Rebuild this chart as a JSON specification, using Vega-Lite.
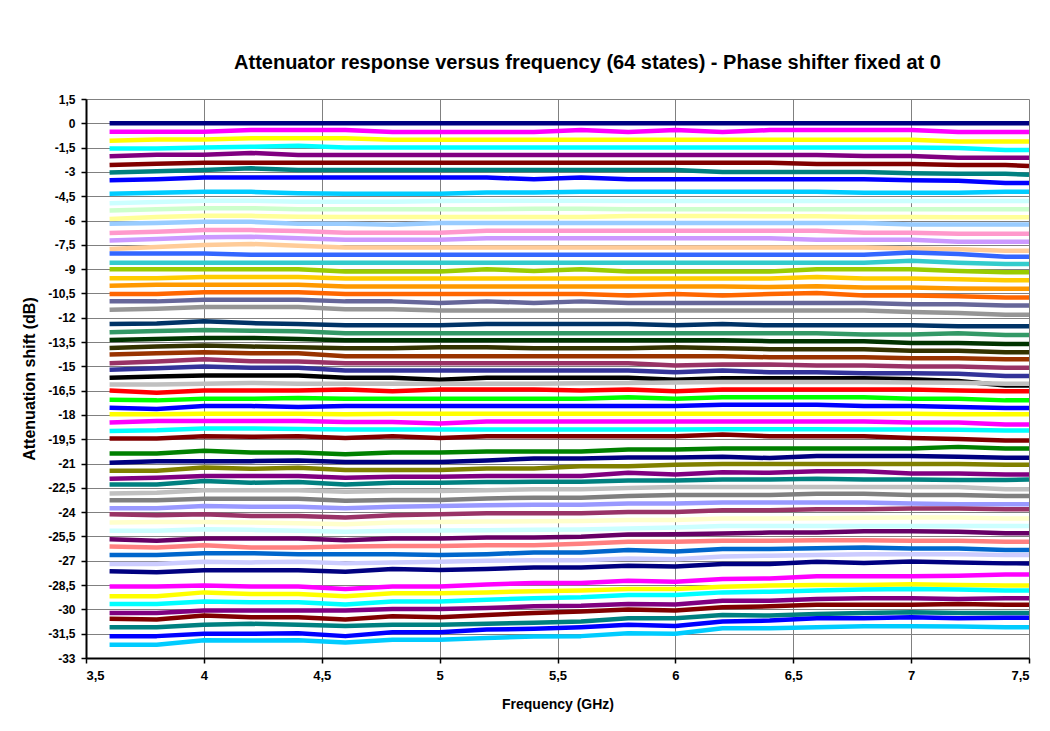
{
"$schema":"https://vega.github.io/schema/vega-lite/v6.json",
"width":943,"height":559,
"autosize":{"type":"none"},
"padding":{"left":86,"top":99,"right":21,"bottom":73},
"background":"white",
"title":{"text":"Attenuator response versus frequency (64 states) - Phase shifter fixed at 0","font":"Liberation Sans","fontSize":20,"fontWeight":"bold","color":"black","anchor":"middle","offset":20,"dx":30},
"data":{"values":[
{"s":1,"f":3.6,"v":0},{"s":1,"f":3.8,"v":0},{"s":1,"f":4,"v":0},{"s":1,"f":4.2,"v":0},{"s":1,"f":4.4,"v":0},{"s":1,"f":4.6,"v":0},{"s":1,"f":4.8,"v":0},{"s":1,"f":5,"v":0},{"s":1,"f":5.2,"v":0},{"s":1,"f":5.4,"v":0},{"s":1,"f":5.6,"v":0},{"s":1,"f":5.8,"v":0},{"s":1,"f":6,"v":0},{"s":1,"f":6.2,"v":0},{"s":1,"f":6.4,"v":0},{"s":1,"f":6.6,"v":0},{"s":1,"f":6.8,"v":0},{"s":1,"f":7,"v":0},{"s":1,"f":7.2,"v":0},{"s":1,"f":7.4,"v":0},{"s":1,"f":7.5,"v":0},
{"s":2,"f":3.6,"v":-0.52},{"s":2,"f":3.8,"v":-0.52},{"s":2,"f":4,"v":-0.52},{"s":2,"f":4.2,"v":-0.42},{"s":2,"f":4.4,"v":-0.42},{"s":2,"f":4.6,"v":-0.42},{"s":2,"f":4.8,"v":-0.54},{"s":2,"f":5,"v":-0.54},{"s":2,"f":5.2,"v":-0.54},{"s":2,"f":5.4,"v":-0.54},{"s":2,"f":5.6,"v":-0.42},{"s":2,"f":5.8,"v":-0.54},{"s":2,"f":6,"v":-0.42},{"s":2,"f":6.2,"v":-0.54},{"s":2,"f":6.4,"v":-0.42},{"s":2,"f":6.6,"v":-0.42},{"s":2,"f":6.8,"v":-0.42},{"s":2,"f":7,"v":-0.42},{"s":2,"f":7.2,"v":-0.54},{"s":2,"f":7.4,"v":-0.54},{"s":2,"f":7.5,"v":-0.54},
{"s":3,"f":3.6,"v":-1.08},{"s":3,"f":3.8,"v":-1},{"s":3,"f":4,"v":-1},{"s":3,"f":4.2,"v":-0.92},{"s":3,"f":4.4,"v":-0.92},{"s":3,"f":4.6,"v":-0.92},{"s":3,"f":4.8,"v":-1.01},{"s":3,"f":5,"v":-1.01},{"s":3,"f":5.2,"v":-1.01},{"s":3,"f":5.4,"v":-1.01},{"s":3,"f":5.6,"v":-1.01},{"s":3,"f":5.8,"v":-1.01},{"s":3,"f":6,"v":-1.01},{"s":3,"f":6.2,"v":-1.01},{"s":3,"f":6.4,"v":-1.01},{"s":3,"f":6.6,"v":-1.01},{"s":3,"f":6.8,"v":-1.01},{"s":3,"f":7,"v":-1.01},{"s":3,"f":7.2,"v":-1.12},{"s":3,"f":7.4,"v":-1.12},{"s":3,"f":7.5,"v":-1.12},
{"s":4,"f":3.6,"v":-1.55},{"s":4,"f":3.8,"v":-1.55},{"s":4,"f":4,"v":-1.5},{"s":4,"f":4.2,"v":-1.45},{"s":4,"f":4.4,"v":-1.38},{"s":4,"f":4.6,"v":-1.49},{"s":4,"f":4.8,"v":-1.49},{"s":4,"f":5,"v":-1.49},{"s":4,"f":5.2,"v":-1.49},{"s":4,"f":5.4,"v":-1.49},{"s":4,"f":5.6,"v":-1.49},{"s":4,"f":5.8,"v":-1.49},{"s":4,"f":6,"v":-1.49},{"s":4,"f":6.2,"v":-1.49},{"s":4,"f":6.4,"v":-1.49},{"s":4,"f":6.6,"v":-1.49},{"s":4,"f":6.8,"v":-1.49},{"s":4,"f":7,"v":-1.49},{"s":4,"f":7.2,"v":-1.53},{"s":4,"f":7.4,"v":-1.65},{"s":4,"f":7.5,"v":-1.65},
{"s":5,"f":3.6,"v":-2.04},{"s":5,"f":3.8,"v":-1.94},{"s":5,"f":4,"v":-1.94},{"s":5,"f":4.2,"v":-1.83},{"s":5,"f":4.4,"v":-1.96},{"s":5,"f":4.6,"v":-1.96},{"s":5,"f":4.8,"v":-1.96},{"s":5,"f":5,"v":-1.96},{"s":5,"f":5.2,"v":-1.96},{"s":5,"f":5.4,"v":-1.96},{"s":5,"f":5.6,"v":-1.96},{"s":5,"f":5.8,"v":-1.96},{"s":5,"f":6,"v":-1.96},{"s":5,"f":6.2,"v":-1.96},{"s":5,"f":6.4,"v":-1.96},{"s":5,"f":6.6,"v":-1.96},{"s":5,"f":6.8,"v":-2.02},{"s":5,"f":7,"v":-2.02},{"s":5,"f":7.2,"v":-2.12},{"s":5,"f":7.4,"v":-2.12},{"s":5,"f":7.5,"v":-2.12},
{"s":6,"f":3.6,"v":-2.57},{"s":6,"f":3.8,"v":-2.49},{"s":6,"f":4,"v":-2.43},{"s":6,"f":4.2,"v":-2.43},{"s":6,"f":4.4,"v":-2.43},{"s":6,"f":4.6,"v":-2.43},{"s":6,"f":4.8,"v":-2.43},{"s":6,"f":5,"v":-2.43},{"s":6,"f":5.2,"v":-2.43},{"s":6,"f":5.4,"v":-2.43},{"s":6,"f":5.6,"v":-2.43},{"s":6,"f":5.8,"v":-2.43},{"s":6,"f":6,"v":-2.43},{"s":6,"f":6.2,"v":-2.43},{"s":6,"f":6.4,"v":-2.43},{"s":6,"f":6.6,"v":-2.51},{"s":6,"f":6.8,"v":-2.51},{"s":6,"f":7,"v":-2.51},{"s":6,"f":7.2,"v":-2.57},{"s":6,"f":7.4,"v":-2.57},{"s":6,"f":7.5,"v":-2.63},
{"s":7,"f":3.6,"v":-3.04},{"s":7,"f":3.8,"v":-2.96},{"s":7,"f":4,"v":-2.88},{"s":7,"f":4.2,"v":-2.78},{"s":7,"f":4.4,"v":-2.88},{"s":7,"f":4.6,"v":-2.88},{"s":7,"f":4.8,"v":-2.88},{"s":7,"f":5,"v":-2.88},{"s":7,"f":5.2,"v":-2.88},{"s":7,"f":5.4,"v":-2.88},{"s":7,"f":5.6,"v":-2.88},{"s":7,"f":5.8,"v":-2.88},{"s":7,"f":6,"v":-2.88},{"s":7,"f":6.2,"v":-3},{"s":7,"f":6.4,"v":-3},{"s":7,"f":6.6,"v":-3},{"s":7,"f":6.8,"v":-3},{"s":7,"f":7,"v":-3.08},{"s":7,"f":7.2,"v":-3.12},{"s":7,"f":7.4,"v":-3.12},{"s":7,"f":7.5,"v":-3.17},
{"s":8,"f":3.6,"v":-3.51},{"s":8,"f":3.8,"v":-3.45},{"s":8,"f":4,"v":-3.35},{"s":8,"f":4.2,"v":-3.35},{"s":8,"f":4.4,"v":-3.35},{"s":8,"f":4.6,"v":-3.35},{"s":8,"f":4.8,"v":-3.35},{"s":8,"f":5,"v":-3.35},{"s":8,"f":5.2,"v":-3.35},{"s":8,"f":5.4,"v":-3.45},{"s":8,"f":5.6,"v":-3.35},{"s":8,"f":5.8,"v":-3.45},{"s":8,"f":6,"v":-3.45},{"s":8,"f":6.2,"v":-3.45},{"s":8,"f":6.4,"v":-3.45},{"s":8,"f":6.6,"v":-3.45},{"s":8,"f":6.8,"v":-3.45},{"s":8,"f":7,"v":-3.51},{"s":8,"f":7.2,"v":-3.55},{"s":8,"f":7.4,"v":-3.68},{"s":8,"f":7.5,"v":-3.68},
{"s":9,"f":3.6,"v":-4.35},{"s":9,"f":3.8,"v":-4.29},{"s":9,"f":4,"v":-4.23},{"s":9,"f":4.2,"v":-4.23},{"s":9,"f":4.4,"v":-4.31},{"s":9,"f":4.6,"v":-4.35},{"s":9,"f":4.8,"v":-4.35},{"s":9,"f":5,"v":-4.35},{"s":9,"f":5.2,"v":-4.27},{"s":9,"f":5.4,"v":-4.27},{"s":9,"f":5.6,"v":-4.23},{"s":9,"f":5.8,"v":-4.23},{"s":9,"f":6,"v":-4.23},{"s":9,"f":6.2,"v":-4.23},{"s":9,"f":6.4,"v":-4.23},{"s":9,"f":6.6,"v":-4.23},{"s":9,"f":6.8,"v":-4.29},{"s":9,"f":7,"v":-4.29},{"s":9,"f":7.2,"v":-4.29},{"s":9,"f":7.4,"v":-4.23},{"s":9,"f":7.5,"v":-4.23},
{"s":10,"f":3.6,"v":-4.93},{"s":10,"f":3.8,"v":-4.85},{"s":10,"f":4,"v":-4.78},{"s":10,"f":4.2,"v":-4.78},{"s":10,"f":4.4,"v":-4.84},{"s":10,"f":4.6,"v":-4.84},{"s":10,"f":4.8,"v":-4.84},{"s":10,"f":5,"v":-4.8},{"s":10,"f":5.2,"v":-4.78},{"s":10,"f":5.4,"v":-4.78},{"s":10,"f":5.6,"v":-4.78},{"s":10,"f":5.8,"v":-4.8},{"s":10,"f":6,"v":-4.8},{"s":10,"f":6.2,"v":-4.8},{"s":10,"f":6.4,"v":-4.8},{"s":10,"f":6.6,"v":-4.8},{"s":10,"f":6.8,"v":-4.8},{"s":10,"f":7,"v":-4.8},{"s":10,"f":7.2,"v":-4.8},{"s":10,"f":7.4,"v":-4.8},{"s":10,"f":7.5,"v":-4.8},
{"s":11,"f":3.6,"v":-5.38},{"s":11,"f":3.8,"v":-5.3},{"s":11,"f":4,"v":-5.24},{"s":11,"f":4.2,"v":-5.24},{"s":11,"f":4.4,"v":-5.3},{"s":11,"f":4.6,"v":-5.3},{"s":11,"f":4.8,"v":-5.3},{"s":11,"f":5,"v":-5.3},{"s":11,"f":5.2,"v":-5.3},{"s":11,"f":5.4,"v":-5.28},{"s":11,"f":5.6,"v":-5.28},{"s":11,"f":5.8,"v":-5.3},{"s":11,"f":6,"v":-5.3},{"s":11,"f":6.2,"v":-5.3},{"s":11,"f":6.4,"v":-5.3},{"s":11,"f":6.6,"v":-5.3},{"s":11,"f":6.8,"v":-5.3},{"s":11,"f":7,"v":-5.3},{"s":11,"f":7.2,"v":-5.3},{"s":11,"f":7.4,"v":-5.3},{"s":11,"f":7.5,"v":-5.3},
{"s":12,"f":3.6,"v":-5.91},{"s":12,"f":3.8,"v":-5.79},{"s":12,"f":4,"v":-5.71},{"s":12,"f":4.2,"v":-5.71},{"s":12,"f":4.4,"v":-5.77},{"s":12,"f":4.6,"v":-5.79},{"s":12,"f":4.8,"v":-5.79},{"s":12,"f":5,"v":-5.79},{"s":12,"f":5.2,"v":-5.79},{"s":12,"f":5.4,"v":-5.79},{"s":12,"f":5.6,"v":-5.79},{"s":12,"f":5.8,"v":-5.72},{"s":12,"f":6,"v":-5.72},{"s":12,"f":6.2,"v":-5.72},{"s":12,"f":6.4,"v":-5.74},{"s":12,"f":6.6,"v":-5.74},{"s":12,"f":6.8,"v":-5.78},{"s":12,"f":7,"v":-5.78},{"s":12,"f":7.2,"v":-5.8},{"s":12,"f":7.4,"v":-5.8},{"s":12,"f":7.5,"v":-5.8},
{"s":13,"f":3.6,"v":-6.2},{"s":13,"f":3.8,"v":-6.16},{"s":13,"f":4,"v":-6.08},{"s":13,"f":4.2,"v":-6.08},{"s":13,"f":4.4,"v":-6.2},{"s":13,"f":4.6,"v":-6.2},{"s":13,"f":4.8,"v":-6.26},{"s":13,"f":5,"v":-6.16},{"s":13,"f":5.2,"v":-6.16},{"s":13,"f":5.4,"v":-6.16},{"s":13,"f":5.6,"v":-6.16},{"s":13,"f":5.8,"v":-6.16},{"s":13,"f":6,"v":-6.16},{"s":13,"f":6.2,"v":-6.16},{"s":13,"f":6.4,"v":-6.16},{"s":13,"f":6.6,"v":-6.16},{"s":13,"f":6.8,"v":-6.16},{"s":13,"f":7,"v":-6.24},{"s":13,"f":7.2,"v":-6.24},{"s":13,"f":7.4,"v":-6.24},{"s":13,"f":7.5,"v":-6.24},
{"s":14,"f":3.6,"v":-6.77},{"s":14,"f":3.8,"v":-6.69},{"s":14,"f":4,"v":-6.59},{"s":14,"f":4.2,"v":-6.59},{"s":14,"f":4.4,"v":-6.65},{"s":14,"f":4.6,"v":-6.75},{"s":14,"f":4.8,"v":-6.75},{"s":14,"f":5,"v":-6.75},{"s":14,"f":5.2,"v":-6.63},{"s":14,"f":5.4,"v":-6.63},{"s":14,"f":5.6,"v":-6.63},{"s":14,"f":5.8,"v":-6.63},{"s":14,"f":6,"v":-6.63},{"s":14,"f":6.2,"v":-6.63},{"s":14,"f":6.4,"v":-6.63},{"s":14,"f":6.6,"v":-6.63},{"s":14,"f":6.8,"v":-6.75},{"s":14,"f":7,"v":-6.75},{"s":14,"f":7.2,"v":-6.81},{"s":14,"f":7.4,"v":-6.81},{"s":14,"f":7.5,"v":-6.81},
{"s":15,"f":3.6,"v":-7.24},{"s":15,"f":3.8,"v":-7.14},{"s":15,"f":4,"v":-7.04},{"s":15,"f":4.2,"v":-7},{"s":15,"f":4.4,"v":-7.1},{"s":15,"f":4.6,"v":-7.18},{"s":15,"f":4.8,"v":-7.18},{"s":15,"f":5,"v":-7.18},{"s":15,"f":5.2,"v":-7.1},{"s":15,"f":5.4,"v":-7.1},{"s":15,"f":5.6,"v":-7.1},{"s":15,"f":5.8,"v":-7.1},{"s":15,"f":6,"v":-7.1},{"s":15,"f":6.2,"v":-7.1},{"s":15,"f":6.4,"v":-7.1},{"s":15,"f":6.6,"v":-7.18},{"s":15,"f":6.8,"v":-7.18},{"s":15,"f":7,"v":-7.18},{"s":15,"f":7.2,"v":-7.31},{"s":15,"f":7.4,"v":-7.31},{"s":15,"f":7.5,"v":-7.31},
{"s":16,"f":3.6,"v":-7.76},{"s":16,"f":3.8,"v":-7.63},{"s":16,"f":4,"v":-7.51},{"s":16,"f":4.2,"v":-7.45},{"s":16,"f":4.4,"v":-7.55},{"s":16,"f":4.6,"v":-7.67},{"s":16,"f":4.8,"v":-7.67},{"s":16,"f":5,"v":-7.67},{"s":16,"f":5.2,"v":-7.67},{"s":16,"f":5.4,"v":-7.67},{"s":16,"f":5.6,"v":-7.67},{"s":16,"f":5.8,"v":-7.67},{"s":16,"f":6,"v":-7.67},{"s":16,"f":6.2,"v":-7.67},{"s":16,"f":6.4,"v":-7.67},{"s":16,"f":6.6,"v":-7.67},{"s":16,"f":6.8,"v":-7.67},{"s":16,"f":7,"v":-7.72},{"s":16,"f":7.2,"v":-7.78},{"s":16,"f":7.4,"v":-7.86},{"s":16,"f":7.5,"v":-7.86},
{"s":17,"f":3.6,"v":-8.04},{"s":17,"f":3.8,"v":-8.04},{"s":17,"f":4,"v":-8.04},{"s":17,"f":4.2,"v":-8.12},{"s":17,"f":4.4,"v":-8.12},{"s":17,"f":4.6,"v":-8.12},{"s":17,"f":4.8,"v":-8.12},{"s":17,"f":5,"v":-8.12},{"s":17,"f":5.2,"v":-8.12},{"s":17,"f":5.4,"v":-8.12},{"s":17,"f":5.6,"v":-8.12},{"s":17,"f":5.8,"v":-8.12},{"s":17,"f":6,"v":-8.12},{"s":17,"f":6.2,"v":-8.12},{"s":17,"f":6.4,"v":-8.12},{"s":17,"f":6.6,"v":-8.12},{"s":17,"f":6.8,"v":-8.12},{"s":17,"f":7,"v":-7.98},{"s":17,"f":7.2,"v":-8.06},{"s":17,"f":7.4,"v":-8.23},{"s":17,"f":7.5,"v":-8.23},
{"s":18,"f":3.6,"v":-8.6},{"s":18,"f":3.8,"v":-8.6},{"s":18,"f":4,"v":-8.6},{"s":18,"f":4.2,"v":-8.6},{"s":18,"f":4.4,"v":-8.6},{"s":18,"f":4.6,"v":-8.6},{"s":18,"f":4.8,"v":-8.6},{"s":18,"f":5,"v":-8.6},{"s":18,"f":5.2,"v":-8.6},{"s":18,"f":5.4,"v":-8.6},{"s":18,"f":5.6,"v":-8.6},{"s":18,"f":5.8,"v":-8.6},{"s":18,"f":6,"v":-8.6},{"s":18,"f":6.2,"v":-8.6},{"s":18,"f":6.4,"v":-8.6},{"s":18,"f":6.6,"v":-8.6},{"s":18,"f":6.8,"v":-8.6},{"s":18,"f":7,"v":-8.49},{"s":18,"f":7.2,"v":-8.6},{"s":18,"f":7.4,"v":-8.68},{"s":18,"f":7.5,"v":-8.68},
{"s":19,"f":3.6,"v":-9.01},{"s":19,"f":3.8,"v":-9.01},{"s":19,"f":4,"v":-9.01},{"s":19,"f":4.2,"v":-9.01},{"s":19,"f":4.4,"v":-9.01},{"s":19,"f":4.6,"v":-9.15},{"s":19,"f":4.8,"v":-9.15},{"s":19,"f":5,"v":-9.15},{"s":19,"f":5.2,"v":-9.01},{"s":19,"f":5.4,"v":-9.11},{"s":19,"f":5.6,"v":-9.01},{"s":19,"f":5.8,"v":-9.15},{"s":19,"f":6,"v":-9.15},{"s":19,"f":6.2,"v":-9.15},{"s":19,"f":6.4,"v":-9.15},{"s":19,"f":6.6,"v":-9.01},{"s":19,"f":6.8,"v":-9.01},{"s":19,"f":7,"v":-9.01},{"s":19,"f":7.2,"v":-9.11},{"s":19,"f":7.4,"v":-9.19},{"s":19,"f":7.5,"v":-9.19},
{"s":20,"f":3.6,"v":-9.56},{"s":20,"f":3.8,"v":-9.56},{"s":20,"f":4,"v":-9.48},{"s":20,"f":4.2,"v":-9.48},{"s":20,"f":4.4,"v":-9.48},{"s":20,"f":4.6,"v":-9.58},{"s":20,"f":4.8,"v":-9.58},{"s":20,"f":5,"v":-9.58},{"s":20,"f":5.2,"v":-9.58},{"s":20,"f":5.4,"v":-9.58},{"s":20,"f":5.6,"v":-9.58},{"s":20,"f":5.8,"v":-9.58},{"s":20,"f":6,"v":-9.58},{"s":20,"f":6.2,"v":-9.58},{"s":20,"f":6.4,"v":-9.58},{"s":20,"f":6.6,"v":-9.48},{"s":20,"f":6.8,"v":-9.58},{"s":20,"f":7,"v":-9.58},{"s":20,"f":7.2,"v":-9.62},{"s":20,"f":7.4,"v":-9.68},{"s":20,"f":7.5,"v":-9.68},
{"s":21,"f":3.6,"v":-10.03},{"s":21,"f":3.8,"v":-9.97},{"s":21,"f":4,"v":-9.97},{"s":21,"f":4.2,"v":-9.97},{"s":21,"f":4.4,"v":-9.97},{"s":21,"f":4.6,"v":-10.07},{"s":21,"f":4.8,"v":-10.07},{"s":21,"f":5,"v":-10.07},{"s":21,"f":5.2,"v":-10.07},{"s":21,"f":5.4,"v":-10.07},{"s":21,"f":5.6,"v":-10.07},{"s":21,"f":5.8,"v":-10.07},{"s":21,"f":6,"v":-10.07},{"s":21,"f":6.2,"v":-10.07},{"s":21,"f":6.4,"v":-10.11},{"s":21,"f":6.6,"v":-10.05},{"s":21,"f":6.8,"v":-10.13},{"s":21,"f":7,"v":-10.13},{"s":21,"f":7.2,"v":-10.19},{"s":21,"f":7.4,"v":-10.21},{"s":21,"f":7.5,"v":-10.21},
{"s":22,"f":3.6,"v":-10.54},{"s":22,"f":3.8,"v":-10.54},{"s":22,"f":4,"v":-10.42},{"s":22,"f":4.2,"v":-10.42},{"s":22,"f":4.4,"v":-10.42},{"s":22,"f":4.6,"v":-10.54},{"s":22,"f":4.8,"v":-10.54},{"s":22,"f":5,"v":-10.54},{"s":22,"f":5.2,"v":-10.54},{"s":22,"f":5.4,"v":-10.54},{"s":22,"f":5.6,"v":-10.54},{"s":22,"f":5.8,"v":-10.62},{"s":22,"f":6,"v":-10.54},{"s":22,"f":6.2,"v":-10.62},{"s":22,"f":6.4,"v":-10.54},{"s":22,"f":6.6,"v":-10.48},{"s":22,"f":6.8,"v":-10.62},{"s":22,"f":7,"v":-10.62},{"s":22,"f":7.2,"v":-10.67},{"s":22,"f":7.4,"v":-10.75},{"s":22,"f":7.5,"v":-10.75},
{"s":23,"f":3.6,"v":-10.99},{"s":23,"f":3.8,"v":-10.99},{"s":23,"f":4,"v":-10.89},{"s":23,"f":4.2,"v":-10.89},{"s":23,"f":4.4,"v":-10.89},{"s":23,"f":4.6,"v":-10.99},{"s":23,"f":4.8,"v":-10.99},{"s":23,"f":5,"v":-11.09},{"s":23,"f":5.2,"v":-10.99},{"s":23,"f":5.4,"v":-11.09},{"s":23,"f":5.6,"v":-10.99},{"s":23,"f":5.8,"v":-11.09},{"s":23,"f":6,"v":-11.09},{"s":23,"f":6.2,"v":-11.09},{"s":23,"f":6.4,"v":-11.09},{"s":23,"f":6.6,"v":-11.09},{"s":23,"f":6.8,"v":-11.09},{"s":23,"f":7,"v":-11.16},{"s":23,"f":7.2,"v":-11.16},{"s":23,"f":7.4,"v":-11.24},{"s":23,"f":7.5,"v":-11.24},
{"s":24,"f":3.6,"v":-11.5},{"s":24,"f":3.8,"v":-11.45},{"s":24,"f":4,"v":-11.34},{"s":24,"f":4.2,"v":-11.34},{"s":24,"f":4.4,"v":-11.34},{"s":24,"f":4.6,"v":-11.47},{"s":24,"f":4.8,"v":-11.47},{"s":24,"f":5,"v":-11.55},{"s":24,"f":5.2,"v":-11.55},{"s":24,"f":5.4,"v":-11.55},{"s":24,"f":5.6,"v":-11.55},{"s":24,"f":5.8,"v":-11.55},{"s":24,"f":6,"v":-11.55},{"s":24,"f":6.2,"v":-11.55},{"s":24,"f":6.4,"v":-11.55},{"s":24,"f":6.6,"v":-11.55},{"s":24,"f":6.8,"v":-11.55},{"s":24,"f":7,"v":-11.65},{"s":24,"f":7.2,"v":-11.71},{"s":24,"f":7.4,"v":-11.81},{"s":24,"f":7.5,"v":-11.81},
{"s":25,"f":3.6,"v":-12.39},{"s":25,"f":3.8,"v":-12.35},{"s":25,"f":4,"v":-12.22},{"s":25,"f":4.2,"v":-12.33},{"s":25,"f":4.4,"v":-12.39},{"s":25,"f":4.6,"v":-12.47},{"s":25,"f":4.8,"v":-12.47},{"s":25,"f":5,"v":-12.47},{"s":25,"f":5.2,"v":-12.39},{"s":25,"f":5.4,"v":-12.39},{"s":25,"f":5.6,"v":-12.39},{"s":25,"f":5.8,"v":-12.39},{"s":25,"f":6,"v":-12.47},{"s":25,"f":6.2,"v":-12.39},{"s":25,"f":6.4,"v":-12.47},{"s":25,"f":6.6,"v":-12.47},{"s":25,"f":6.8,"v":-12.47},{"s":25,"f":7,"v":-12.47},{"s":25,"f":7.2,"v":-12.53},{"s":25,"f":7.4,"v":-12.53},{"s":25,"f":7.5,"v":-12.53},
{"s":26,"f":3.6,"v":-12.9},{"s":26,"f":3.8,"v":-12.82},{"s":26,"f":4,"v":-12.76},{"s":26,"f":4.2,"v":-12.8},{"s":26,"f":4.4,"v":-12.84},{"s":26,"f":4.6,"v":-12.96},{"s":26,"f":4.8,"v":-12.96},{"s":26,"f":5,"v":-12.96},{"s":26,"f":5.2,"v":-12.96},{"s":26,"f":5.4,"v":-12.96},{"s":26,"f":5.6,"v":-12.96},{"s":26,"f":5.8,"v":-12.96},{"s":26,"f":6,"v":-12.96},{"s":26,"f":6.2,"v":-12.96},{"s":26,"f":6.4,"v":-12.96},{"s":26,"f":6.6,"v":-12.96},{"s":26,"f":6.8,"v":-13.04},{"s":26,"f":7,"v":-13.04},{"s":26,"f":7.2,"v":-12.96},{"s":26,"f":7.4,"v":-13.06},{"s":26,"f":7.5,"v":-13.06},
{"s":27,"f":3.6,"v":-13.37},{"s":27,"f":3.8,"v":-13.31},{"s":27,"f":4,"v":-13.25},{"s":27,"f":4.2,"v":-13.25},{"s":27,"f":4.4,"v":-13.31},{"s":27,"f":4.6,"v":-13.39},{"s":27,"f":4.8,"v":-13.39},{"s":27,"f":5,"v":-13.39},{"s":27,"f":5.2,"v":-13.39},{"s":27,"f":5.4,"v":-13.39},{"s":27,"f":5.6,"v":-13.39},{"s":27,"f":5.8,"v":-13.39},{"s":27,"f":6,"v":-13.39},{"s":27,"f":6.2,"v":-13.39},{"s":27,"f":6.4,"v":-13.45},{"s":27,"f":6.6,"v":-13.45},{"s":27,"f":6.8,"v":-13.45},{"s":27,"f":7,"v":-13.56},{"s":27,"f":7.2,"v":-13.56},{"s":27,"f":7.4,"v":-13.62},{"s":27,"f":7.5,"v":-13.62},
{"s":28,"f":3.6,"v":-13.86},{"s":28,"f":3.8,"v":-13.78},{"s":28,"f":4,"v":-13.72},{"s":28,"f":4.2,"v":-13.78},{"s":28,"f":4.4,"v":-13.82},{"s":28,"f":4.6,"v":-13.88},{"s":28,"f":4.8,"v":-13.88},{"s":28,"f":5,"v":-13.82},{"s":28,"f":5.2,"v":-13.82},{"s":28,"f":5.4,"v":-13.88},{"s":28,"f":5.6,"v":-13.88},{"s":28,"f":5.8,"v":-13.88},{"s":28,"f":6,"v":-13.82},{"s":28,"f":6.2,"v":-13.88},{"s":28,"f":6.4,"v":-13.94},{"s":28,"f":6.6,"v":-13.94},{"s":28,"f":6.8,"v":-13.94},{"s":28,"f":7,"v":-14.03},{"s":28,"f":7.2,"v":-14.03},{"s":28,"f":7.4,"v":-14.13},{"s":28,"f":7.5,"v":-14.13},
{"s":29,"f":3.6,"v":-14.27},{"s":29,"f":3.8,"v":-14.19},{"s":29,"f":4,"v":-14.13},{"s":29,"f":4.2,"v":-14.19},{"s":29,"f":4.4,"v":-14.19},{"s":29,"f":4.6,"v":-14.37},{"s":29,"f":4.8,"v":-14.37},{"s":29,"f":5,"v":-14.37},{"s":29,"f":5.2,"v":-14.37},{"s":29,"f":5.4,"v":-14.37},{"s":29,"f":5.6,"v":-14.37},{"s":29,"f":5.8,"v":-14.37},{"s":29,"f":6,"v":-14.37},{"s":29,"f":6.2,"v":-14.37},{"s":29,"f":6.4,"v":-14.44},{"s":29,"f":6.6,"v":-14.44},{"s":29,"f":6.8,"v":-14.44},{"s":29,"f":7,"v":-14.5},{"s":29,"f":7.2,"v":-14.5},{"s":29,"f":7.4,"v":-14.56},{"s":29,"f":7.5,"v":-14.56},
{"s":30,"f":3.6,"v":-14.81},{"s":30,"f":3.8,"v":-14.7},{"s":30,"f":4,"v":-14.56},{"s":30,"f":4.2,"v":-14.68},{"s":30,"f":4.4,"v":-14.7},{"s":30,"f":4.6,"v":-14.81},{"s":30,"f":4.8,"v":-14.81},{"s":30,"f":5,"v":-14.81},{"s":30,"f":5.2,"v":-14.81},{"s":30,"f":5.4,"v":-14.81},{"s":30,"f":5.6,"v":-14.81},{"s":30,"f":5.8,"v":-14.81},{"s":30,"f":6,"v":-14.95},{"s":30,"f":6.2,"v":-14.89},{"s":30,"f":6.4,"v":-14.89},{"s":30,"f":6.6,"v":-14.95},{"s":30,"f":6.8,"v":-14.95},{"s":30,"f":7,"v":-15.01},{"s":30,"f":7.2,"v":-15.01},{"s":30,"f":7.4,"v":-15.09},{"s":30,"f":7.5,"v":-15.09},
{"s":31,"f":3.6,"v":-15.21},{"s":31,"f":3.8,"v":-15.11},{"s":31,"f":4,"v":-15.01},{"s":31,"f":4.2,"v":-15.09},{"s":31,"f":4.4,"v":-15.09},{"s":31,"f":4.6,"v":-15.25},{"s":31,"f":4.8,"v":-15.25},{"s":31,"f":5,"v":-15.25},{"s":31,"f":5.2,"v":-15.25},{"s":31,"f":5.4,"v":-15.25},{"s":31,"f":5.6,"v":-15.25},{"s":31,"f":5.8,"v":-15.25},{"s":31,"f":6,"v":-15.36},{"s":31,"f":6.2,"v":-15.25},{"s":31,"f":6.4,"v":-15.36},{"s":31,"f":6.6,"v":-15.36},{"s":31,"f":6.8,"v":-15.42},{"s":31,"f":7,"v":-15.42},{"s":31,"f":7.2,"v":-15.46},{"s":31,"f":7.4,"v":-15.6},{"s":31,"f":7.5,"v":-15.6},
{"s":32,"f":3.6,"v":-15.71},{"s":32,"f":3.8,"v":-15.63},{"s":32,"f":4,"v":-15.56},{"s":32,"f":4.2,"v":-15.56},{"s":32,"f":4.4,"v":-15.56},{"s":32,"f":4.6,"v":-15.71},{"s":32,"f":4.8,"v":-15.71},{"s":32,"f":5,"v":-15.83},{"s":32,"f":5.2,"v":-15.71},{"s":32,"f":5.4,"v":-15.71},{"s":32,"f":5.6,"v":-15.71},{"s":32,"f":5.8,"v":-15.71},{"s":32,"f":6,"v":-15.83},{"s":32,"f":6.2,"v":-15.73},{"s":32,"f":6.4,"v":-15.73},{"s":32,"f":6.6,"v":-15.73},{"s":32,"f":6.8,"v":-15.73},{"s":32,"f":7,"v":-15.8},{"s":32,"f":7.2,"v":-15.91},{"s":32,"f":7.4,"v":-16.18},{"s":32,"f":7.5,"v":-16.18},
{"s":33,"f":3.6,"v":-16.12},{"s":33,"f":3.8,"v":-16.12},{"s":33,"f":4,"v":-16.08},{"s":33,"f":4.2,"v":-16.03},{"s":33,"f":4.4,"v":-16.08},{"s":33,"f":4.6,"v":-16.08},{"s":33,"f":4.8,"v":-16.08},{"s":33,"f":5,"v":-16.08},{"s":33,"f":5.2,"v":-16.08},{"s":33,"f":5.4,"v":-16.08},{"s":33,"f":5.6,"v":-16.05},{"s":33,"f":5.8,"v":-16.03},{"s":33,"f":6,"v":-16},{"s":33,"f":6.2,"v":-15.97},{"s":33,"f":6.4,"v":-15.97},{"s":33,"f":6.6,"v":-15.97},{"s":33,"f":6.8,"v":-15.97},{"s":33,"f":7,"v":-15.99},{"s":33,"f":7.2,"v":-16.01},{"s":33,"f":7.4,"v":-16.08},{"s":33,"f":7.5,"v":-16.08},
{"s":34,"f":3.6,"v":-16.49},{"s":34,"f":3.8,"v":-16.63},{"s":34,"f":4,"v":-16.49},{"s":34,"f":4.2,"v":-16.49},{"s":34,"f":4.4,"v":-16.49},{"s":34,"f":4.6,"v":-16.43},{"s":34,"f":4.8,"v":-16.53},{"s":34,"f":5,"v":-16.43},{"s":34,"f":5.2,"v":-16.43},{"s":34,"f":5.4,"v":-16.43},{"s":34,"f":5.6,"v":-16.49},{"s":34,"f":5.8,"v":-16.43},{"s":34,"f":6,"v":-16.53},{"s":34,"f":6.2,"v":-16.43},{"s":34,"f":6.4,"v":-16.43},{"s":34,"f":6.6,"v":-16.43},{"s":34,"f":6.8,"v":-16.43},{"s":34,"f":7,"v":-16.43},{"s":34,"f":7.2,"v":-16.49},{"s":34,"f":7.4,"v":-16.53},{"s":34,"f":7.5,"v":-16.53},
{"s":35,"f":3.6,"v":-17.06},{"s":35,"f":3.8,"v":-17.1},{"s":35,"f":4,"v":-17},{"s":35,"f":4.2,"v":-17},{"s":35,"f":4.4,"v":-16.96},{"s":35,"f":4.6,"v":-17},{"s":35,"f":4.8,"v":-17},{"s":35,"f":5,"v":-17},{"s":35,"f":5.2,"v":-17},{"s":35,"f":5.4,"v":-17},{"s":35,"f":5.6,"v":-17},{"s":35,"f":5.8,"v":-16.9},{"s":35,"f":6,"v":-17},{"s":35,"f":6.2,"v":-16.9},{"s":35,"f":6.4,"v":-16.9},{"s":35,"f":6.6,"v":-16.9},{"s":35,"f":6.8,"v":-16.9},{"s":35,"f":7,"v":-17},{"s":35,"f":7.2,"v":-17},{"s":35,"f":7.4,"v":-17.1},{"s":35,"f":7.5,"v":-17.1},
{"s":36,"f":3.6,"v":-17.55},{"s":36,"f":3.8,"v":-17.63},{"s":36,"f":4,"v":-17.45},{"s":36,"f":4.2,"v":-17.45},{"s":36,"f":4.4,"v":-17.51},{"s":36,"f":4.6,"v":-17.45},{"s":36,"f":4.8,"v":-17.45},{"s":36,"f":5,"v":-17.45},{"s":36,"f":5.2,"v":-17.45},{"s":36,"f":5.4,"v":-17.45},{"s":36,"f":5.6,"v":-17.45},{"s":36,"f":5.8,"v":-17.45},{"s":36,"f":6,"v":-17.45},{"s":36,"f":6.2,"v":-17.37},{"s":36,"f":6.4,"v":-17.37},{"s":36,"f":6.6,"v":-17.37},{"s":36,"f":6.8,"v":-17.45},{"s":36,"f":7,"v":-17.45},{"s":36,"f":7.2,"v":-17.51},{"s":36,"f":7.4,"v":-17.57},{"s":36,"f":7.5,"v":-17.57},
{"s":37,"f":3.6,"v":-17.96},{"s":37,"f":3.8,"v":-17.96},{"s":37,"f":4,"v":-17.92},{"s":37,"f":4.2,"v":-17.92},{"s":37,"f":4.4,"v":-17.92},{"s":37,"f":4.6,"v":-17.96},{"s":37,"f":4.8,"v":-17.92},{"s":37,"f":5,"v":-17.92},{"s":37,"f":5.2,"v":-17.92},{"s":37,"f":5.4,"v":-17.92},{"s":37,"f":5.6,"v":-17.92},{"s":37,"f":5.8,"v":-17.92},{"s":37,"f":6,"v":-17.92},{"s":37,"f":6.2,"v":-17.92},{"s":37,"f":6.4,"v":-17.92},{"s":37,"f":6.6,"v":-17.92},{"s":37,"f":6.8,"v":-17.92},{"s":37,"f":7,"v":-17.92},{"s":37,"f":7.2,"v":-17.96},{"s":37,"f":7.4,"v":-17.96},{"s":37,"f":7.5,"v":-17.96},
{"s":38,"f":3.6,"v":-18.47},{"s":38,"f":3.8,"v":-18.37},{"s":38,"f":4,"v":-18.37},{"s":38,"f":4.2,"v":-18.37},{"s":38,"f":4.4,"v":-18.37},{"s":38,"f":4.6,"v":-18.43},{"s":38,"f":4.8,"v":-18.43},{"s":38,"f":5,"v":-18.53},{"s":38,"f":5.2,"v":-18.41},{"s":38,"f":5.4,"v":-18.41},{"s":38,"f":5.6,"v":-18.41},{"s":38,"f":5.8,"v":-18.41},{"s":38,"f":6,"v":-18.41},{"s":38,"f":6.2,"v":-18.41},{"s":38,"f":6.4,"v":-18.41},{"s":38,"f":6.6,"v":-18.41},{"s":38,"f":6.8,"v":-18.41},{"s":38,"f":7,"v":-18.47},{"s":38,"f":7.2,"v":-18.47},{"s":38,"f":7.4,"v":-18.59},{"s":38,"f":7.5,"v":-18.59},
{"s":39,"f":3.6,"v":-18.99},{"s":39,"f":3.8,"v":-18.95},{"s":39,"f":4,"v":-18.83},{"s":39,"f":4.2,"v":-18.83},{"s":39,"f":4.4,"v":-18.87},{"s":39,"f":4.6,"v":-18.9},{"s":39,"f":4.8,"v":-18.9},{"s":39,"f":5,"v":-18.9},{"s":39,"f":5.2,"v":-18.9},{"s":39,"f":5.4,"v":-18.9},{"s":39,"f":5.6,"v":-18.9},{"s":39,"f":5.8,"v":-18.9},{"s":39,"f":6,"v":-18.9},{"s":39,"f":6.2,"v":-18.88},{"s":39,"f":6.4,"v":-18.88},{"s":39,"f":6.6,"v":-18.88},{"s":39,"f":6.8,"v":-18.9},{"s":39,"f":7,"v":-18.9},{"s":39,"f":7.2,"v":-18.92},{"s":39,"f":7.4,"v":-18.96},{"s":39,"f":7.5,"v":-18.96},
{"s":40,"f":3.6,"v":-19.46},{"s":40,"f":3.8,"v":-19.46},{"s":40,"f":4,"v":-19.31},{"s":40,"f":4.2,"v":-19.35},{"s":40,"f":4.4,"v":-19.31},{"s":40,"f":4.6,"v":-19.42},{"s":40,"f":4.8,"v":-19.31},{"s":40,"f":5,"v":-19.42},{"s":40,"f":5.2,"v":-19.31},{"s":40,"f":5.4,"v":-19.31},{"s":40,"f":5.6,"v":-19.31},{"s":40,"f":5.8,"v":-19.31},{"s":40,"f":6,"v":-19.31},{"s":40,"f":6.2,"v":-19.21},{"s":40,"f":6.4,"v":-19.31},{"s":40,"f":6.6,"v":-19.31},{"s":40,"f":6.8,"v":-19.31},{"s":40,"f":7,"v":-19.42},{"s":40,"f":7.2,"v":-19.48},{"s":40,"f":7.4,"v":-19.58},{"s":40,"f":7.5,"v":-19.58},
{"s":41,"f":3.6,"v":-20.38},{"s":41,"f":3.8,"v":-20.38},{"s":41,"f":4,"v":-20.21},{"s":41,"f":4.2,"v":-20.32},{"s":41,"f":4.4,"v":-20.32},{"s":41,"f":4.6,"v":-20.42},{"s":41,"f":4.8,"v":-20.32},{"s":41,"f":5,"v":-20.32},{"s":41,"f":5.2,"v":-20.26},{"s":41,"f":5.4,"v":-20.26},{"s":41,"f":5.6,"v":-20.26},{"s":41,"f":5.8,"v":-20.13},{"s":41,"f":6,"v":-20.13},{"s":41,"f":6.2,"v":-20.07},{"s":41,"f":6.4,"v":-20.07},{"s":41,"f":6.6,"v":-20.07},{"s":41,"f":6.8,"v":-20.07},{"s":41,"f":7,"v":-20.07},{"s":41,"f":7.2,"v":-19.97},{"s":41,"f":7.4,"v":-20.07},{"s":41,"f":7.5,"v":-20.07},
{"s":42,"f":3.6,"v":-20.95},{"s":42,"f":3.8,"v":-20.85},{"s":42,"f":4,"v":-20.85},{"s":42,"f":4.2,"v":-20.85},{"s":42,"f":4.4,"v":-20.81},{"s":42,"f":4.6,"v":-20.91},{"s":42,"f":4.8,"v":-20.91},{"s":42,"f":5,"v":-20.91},{"s":42,"f":5.2,"v":-20.81},{"s":42,"f":5.4,"v":-20.69},{"s":42,"f":5.6,"v":-20.69},{"s":42,"f":5.8,"v":-20.62},{"s":42,"f":6,"v":-20.62},{"s":42,"f":6.2,"v":-20.58},{"s":42,"f":6.4,"v":-20.66},{"s":42,"f":6.6,"v":-20.54},{"s":42,"f":6.8,"v":-20.54},{"s":42,"f":7,"v":-20.54},{"s":42,"f":7.2,"v":-20.58},{"s":42,"f":7.4,"v":-20.64},{"s":42,"f":7.5,"v":-20.64},
{"s":43,"f":3.6,"v":-21.44},{"s":43,"f":3.8,"v":-21.44},{"s":43,"f":4,"v":-21.24},{"s":43,"f":4.2,"v":-21.32},{"s":43,"f":4.4,"v":-21.26},{"s":43,"f":4.6,"v":-21.4},{"s":43,"f":4.8,"v":-21.4},{"s":43,"f":5,"v":-21.4},{"s":43,"f":5.2,"v":-21.3},{"s":43,"f":5.4,"v":-21.3},{"s":43,"f":5.6,"v":-21.16},{"s":43,"f":5.8,"v":-21.16},{"s":43,"f":6,"v":-21.08},{"s":43,"f":6.2,"v":-21.02},{"s":43,"f":6.4,"v":-21.02},{"s":43,"f":6.6,"v":-21.02},{"s":43,"f":6.8,"v":-21.02},{"s":43,"f":7,"v":-21.02},{"s":43,"f":7.2,"v":-21.02},{"s":43,"f":7.4,"v":-21.08},{"s":43,"f":7.5,"v":-21.08},
{"s":44,"f":3.6,"v":-21.94},{"s":44,"f":3.8,"v":-21.88},{"s":44,"f":4,"v":-21.77},{"s":44,"f":4.2,"v":-21.77},{"s":44,"f":4.4,"v":-21.77},{"s":44,"f":4.6,"v":-21.88},{"s":44,"f":4.8,"v":-21.81},{"s":44,"f":5,"v":-21.81},{"s":44,"f":5.2,"v":-21.77},{"s":44,"f":5.4,"v":-21.77},{"s":44,"f":5.6,"v":-21.77},{"s":44,"f":5.8,"v":-21.57},{"s":44,"f":6,"v":-21.67},{"s":44,"f":6.2,"v":-21.53},{"s":44,"f":6.4,"v":-21.57},{"s":44,"f":6.6,"v":-21.47},{"s":44,"f":6.8,"v":-21.47},{"s":44,"f":7,"v":-21.61},{"s":44,"f":7.2,"v":-21.61},{"s":44,"f":7.4,"v":-21.67},{"s":44,"f":7.5,"v":-21.67},
{"s":45,"f":3.6,"v":-22.29},{"s":45,"f":3.8,"v":-22.29},{"s":45,"f":4,"v":-22.08},{"s":45,"f":4.2,"v":-22.18},{"s":45,"f":4.4,"v":-22.14},{"s":45,"f":4.6,"v":-22.29},{"s":45,"f":4.8,"v":-22.18},{"s":45,"f":5,"v":-22.18},{"s":45,"f":5.2,"v":-22.14},{"s":45,"f":5.4,"v":-22.12},{"s":45,"f":5.6,"v":-22.12},{"s":45,"f":5.8,"v":-22.04},{"s":45,"f":6,"v":-22.04},{"s":45,"f":6.2,"v":-21.98},{"s":45,"f":6.4,"v":-21.98},{"s":45,"f":6.6,"v":-21.94},{"s":45,"f":6.8,"v":-21.98},{"s":45,"f":7,"v":-21.98},{"s":45,"f":7.2,"v":-22.02},{"s":45,"f":7.4,"v":-22.02},{"s":45,"f":7.5,"v":-21.98},
{"s":46,"f":3.6,"v":-22.84},{"s":46,"f":3.8,"v":-22.8},{"s":46,"f":4,"v":-22.65},{"s":46,"f":4.2,"v":-22.65},{"s":46,"f":4.4,"v":-22.65},{"s":46,"f":4.6,"v":-22.74},{"s":46,"f":4.8,"v":-22.7},{"s":46,"f":5,"v":-22.7},{"s":46,"f":5.2,"v":-22.65},{"s":46,"f":5.4,"v":-22.59},{"s":46,"f":5.6,"v":-22.59},{"s":46,"f":5.8,"v":-22.51},{"s":46,"f":6,"v":-22.45},{"s":46,"f":6.2,"v":-22.45},{"s":46,"f":6.4,"v":-22.45},{"s":46,"f":6.6,"v":-22.45},{"s":46,"f":6.8,"v":-22.45},{"s":46,"f":7,"v":-22.45},{"s":46,"f":7.2,"v":-22.45},{"s":46,"f":7.4,"v":-22.59},{"s":46,"f":7.5,"v":-22.59},
{"s":47,"f":3.6,"v":-23.27},{"s":47,"f":3.8,"v":-23.27},{"s":47,"f":4,"v":-23.17},{"s":47,"f":4.2,"v":-23.17},{"s":47,"f":4.4,"v":-23.17},{"s":47,"f":4.6,"v":-23.29},{"s":47,"f":4.8,"v":-23.25},{"s":47,"f":5,"v":-23.25},{"s":47,"f":5.2,"v":-23.15},{"s":47,"f":5.4,"v":-23.11},{"s":47,"f":5.6,"v":-23.11},{"s":47,"f":5.8,"v":-23},{"s":47,"f":6,"v":-22.94},{"s":47,"f":6.2,"v":-22.94},{"s":47,"f":6.4,"v":-22.94},{"s":47,"f":6.6,"v":-22.86},{"s":47,"f":6.8,"v":-22.86},{"s":47,"f":7,"v":-22.94},{"s":47,"f":7.2,"v":-22.94},{"s":47,"f":7.4,"v":-23},{"s":47,"f":7.5,"v":-23},
{"s":48,"f":3.6,"v":-23.76},{"s":48,"f":3.8,"v":-23.76},{"s":48,"f":4,"v":-23.62},{"s":48,"f":4.2,"v":-23.66},{"s":48,"f":4.4,"v":-23.66},{"s":48,"f":4.6,"v":-23.76},{"s":48,"f":4.8,"v":-23.66},{"s":48,"f":5,"v":-23.62},{"s":48,"f":5.2,"v":-23.58},{"s":48,"f":5.4,"v":-23.54},{"s":48,"f":5.6,"v":-23.54},{"s":48,"f":5.8,"v":-23.46},{"s":48,"f":6,"v":-23.46},{"s":48,"f":6.2,"v":-23.41},{"s":48,"f":6.4,"v":-23.41},{"s":48,"f":6.6,"v":-23.41},{"s":48,"f":6.8,"v":-23.41},{"s":48,"f":7,"v":-23.46},{"s":48,"f":7.2,"v":-23.51},{"s":48,"f":7.4,"v":-23.51},{"s":48,"f":7.5,"v":-23.51},
{"s":49,"f":3.6,"v":-24.13},{"s":49,"f":3.8,"v":-24.19},{"s":49,"f":4,"v":-24.13},{"s":49,"f":4.2,"v":-24.23},{"s":49,"f":4.4,"v":-24.23},{"s":49,"f":4.6,"v":-24.33},{"s":49,"f":4.8,"v":-24.19},{"s":49,"f":5,"v":-24.13},{"s":49,"f":5.2,"v":-24.07},{"s":49,"f":5.4,"v":-24.07},{"s":49,"f":5.6,"v":-24.07},{"s":49,"f":5.8,"v":-23.99},{"s":49,"f":6,"v":-23.99},{"s":49,"f":6.2,"v":-23.88},{"s":49,"f":6.4,"v":-23.88},{"s":49,"f":6.6,"v":-23.82},{"s":49,"f":6.8,"v":-23.82},{"s":49,"f":7,"v":-23.78},{"s":49,"f":7.2,"v":-23.78},{"s":49,"f":7.4,"v":-23.82},{"s":49,"f":7.5,"v":-23.82},
{"s":50,"f":3.6,"v":-24.64},{"s":50,"f":3.8,"v":-24.6},{"s":50,"f":4,"v":-24.6},{"s":50,"f":4.2,"v":-24.64},{"s":50,"f":4.4,"v":-24.68},{"s":50,"f":4.6,"v":-24.74},{"s":50,"f":4.8,"v":-24.64},{"s":50,"f":5,"v":-24.6},{"s":50,"f":5.2,"v":-24.58},{"s":50,"f":5.4,"v":-24.56},{"s":50,"f":5.6,"v":-24.54},{"s":50,"f":5.8,"v":-24.48},{"s":50,"f":6,"v":-24.48},{"s":50,"f":6.2,"v":-24.39},{"s":50,"f":6.4,"v":-24.39},{"s":50,"f":6.6,"v":-24.37},{"s":50,"f":6.8,"v":-24.35},{"s":50,"f":7,"v":-24.33},{"s":50,"f":7.2,"v":-24.33},{"s":50,"f":7.4,"v":-24.39},{"s":50,"f":7.5,"v":-24.39},
{"s":51,"f":3.6,"v":-25.15},{"s":51,"f":3.8,"v":-25.15},{"s":51,"f":4,"v":-25.05},{"s":51,"f":4.2,"v":-25.09},{"s":51,"f":4.4,"v":-25.15},{"s":51,"f":4.6,"v":-25.21},{"s":51,"f":4.8,"v":-25.15},{"s":51,"f":5,"v":-25.13},{"s":51,"f":5.2,"v":-25.11},{"s":51,"f":5.4,"v":-25.09},{"s":51,"f":5.6,"v":-25.07},{"s":51,"f":5.8,"v":-25.01},{"s":51,"f":6,"v":-24.95},{"s":51,"f":6.2,"v":-24.85},{"s":51,"f":6.4,"v":-24.85},{"s":51,"f":6.6,"v":-24.85},{"s":51,"f":6.8,"v":-24.85},{"s":51,"f":7,"v":-24.85},{"s":51,"f":7.2,"v":-24.85},{"s":51,"f":7.4,"v":-24.85},{"s":51,"f":7.5,"v":-24.85},
{"s":52,"f":3.6,"v":-25.67},{"s":52,"f":3.8,"v":-25.77},{"s":52,"f":4,"v":-25.63},{"s":52,"f":4.2,"v":-25.63},{"s":52,"f":4.4,"v":-25.63},{"s":52,"f":4.6,"v":-25.73},{"s":52,"f":4.8,"v":-25.63},{"s":52,"f":5,"v":-25.63},{"s":52,"f":5.2,"v":-25.56},{"s":52,"f":5.4,"v":-25.56},{"s":52,"f":5.6,"v":-25.52},{"s":52,"f":5.8,"v":-25.38},{"s":52,"f":6,"v":-25.36},{"s":52,"f":6.2,"v":-25.32},{"s":52,"f":6.4,"v":-25.26},{"s":52,"f":6.6,"v":-25.26},{"s":52,"f":6.8,"v":-25.17},{"s":52,"f":7,"v":-25.17},{"s":52,"f":7.2,"v":-25.21},{"s":52,"f":7.4,"v":-25.3},{"s":52,"f":7.5,"v":-25.3},
{"s":53,"f":3.6,"v":-26.12},{"s":53,"f":3.8,"v":-26.18},{"s":53,"f":4,"v":-26.04},{"s":53,"f":4.2,"v":-26.18},{"s":53,"f":4.4,"v":-26.18},{"s":53,"f":4.6,"v":-26.12},{"s":53,"f":4.8,"v":-26.08},{"s":53,"f":5,"v":-26.08},{"s":53,"f":5.2,"v":-26.04},{"s":53,"f":5.4,"v":-26.04},{"s":53,"f":5.6,"v":-25.95},{"s":53,"f":5.8,"v":-25.83},{"s":53,"f":6,"v":-25.83},{"s":53,"f":6.2,"v":-25.77},{"s":53,"f":6.4,"v":-25.77},{"s":53,"f":6.6,"v":-25.73},{"s":53,"f":6.8,"v":-25.73},{"s":53,"f":7,"v":-25.77},{"s":53,"f":7.2,"v":-25.77},{"s":53,"f":7.4,"v":-25.83},{"s":53,"f":7.5,"v":-25.83},
{"s":54,"f":3.6,"v":-26.65},{"s":54,"f":3.8,"v":-26.65},{"s":54,"f":4,"v":-26.53},{"s":54,"f":4.2,"v":-26.53},{"s":54,"f":4.4,"v":-26.59},{"s":54,"f":4.6,"v":-26.59},{"s":54,"f":4.8,"v":-26.59},{"s":54,"f":5,"v":-26.65},{"s":54,"f":5.2,"v":-26.59},{"s":54,"f":5.4,"v":-26.49},{"s":54,"f":5.6,"v":-26.49},{"s":54,"f":5.8,"v":-26.34},{"s":54,"f":6,"v":-26.42},{"s":54,"f":6.2,"v":-26.28},{"s":54,"f":6.4,"v":-26.28},{"s":54,"f":6.6,"v":-26.22},{"s":54,"f":6.8,"v":-26.18},{"s":54,"f":7,"v":-26.24},{"s":54,"f":7.2,"v":-26.24},{"s":54,"f":7.4,"v":-26.34},{"s":54,"f":7.5,"v":-26.34},
{"s":55,"f":3.6,"v":-27.2},{"s":55,"f":3.8,"v":-27.2},{"s":55,"f":4,"v":-27.06},{"s":55,"f":4.2,"v":-27.1},{"s":55,"f":4.4,"v":-27.06},{"s":55,"f":4.6,"v":-27.16},{"s":55,"f":4.8,"v":-27.1},{"s":55,"f":5,"v":-27.06},{"s":55,"f":5.2,"v":-27},{"s":55,"f":5.4,"v":-26.96},{"s":55,"f":5.6,"v":-26.96},{"s":55,"f":5.8,"v":-26.86},{"s":55,"f":6,"v":-26.9},{"s":55,"f":6.2,"v":-26.73},{"s":55,"f":6.4,"v":-26.69},{"s":55,"f":6.6,"v":-26.65},{"s":55,"f":6.8,"v":-26.59},{"s":55,"f":7,"v":-26.59},{"s":55,"f":7.2,"v":-26.59},{"s":55,"f":7.4,"v":-26.65},{"s":55,"f":7.5,"v":-26.65},
{"s":56,"f":3.6,"v":-27.65},{"s":56,"f":3.8,"v":-27.71},{"s":56,"f":4,"v":-27.59},{"s":56,"f":4.2,"v":-27.59},{"s":56,"f":4.4,"v":-27.59},{"s":56,"f":4.6,"v":-27.67},{"s":56,"f":4.8,"v":-27.51},{"s":56,"f":5,"v":-27.57},{"s":56,"f":5.2,"v":-27.51},{"s":56,"f":5.4,"v":-27.41},{"s":56,"f":5.6,"v":-27.41},{"s":56,"f":5.8,"v":-27.3},{"s":56,"f":6,"v":-27.35},{"s":56,"f":6.2,"v":-27.2},{"s":56,"f":6.4,"v":-27.2},{"s":56,"f":6.6,"v":-27.06},{"s":56,"f":6.8,"v":-27.14},{"s":56,"f":7,"v":-27.04},{"s":56,"f":7.2,"v":-27.1},{"s":56,"f":7.4,"v":-27.16},{"s":56,"f":7.5,"v":-27.16},
{"s":57,"f":3.6,"v":-28.58},{"s":57,"f":3.8,"v":-28.58},{"s":57,"f":4,"v":-28.53},{"s":57,"f":4.2,"v":-28.58},{"s":57,"f":4.4,"v":-28.58},{"s":57,"f":4.6,"v":-28.74},{"s":57,"f":4.8,"v":-28.58},{"s":57,"f":5,"v":-28.58},{"s":57,"f":5.2,"v":-28.47},{"s":57,"f":5.4,"v":-28.37},{"s":57,"f":5.6,"v":-28.37},{"s":57,"f":5.8,"v":-28.23},{"s":57,"f":6,"v":-28.29},{"s":57,"f":6.2,"v":-28.13},{"s":57,"f":6.4,"v":-28.09},{"s":57,"f":6.6,"v":-27.96},{"s":57,"f":6.8,"v":-27.96},{"s":57,"f":7,"v":-27.96},{"s":57,"f":7.2,"v":-27.92},{"s":57,"f":7.4,"v":-27.84},{"s":57,"f":7.5,"v":-27.84},
{"s":58,"f":3.6,"v":-29.19},{"s":58,"f":3.8,"v":-29.19},{"s":58,"f":4,"v":-28.95},{"s":58,"f":4.2,"v":-29.05},{"s":58,"f":4.4,"v":-29.05},{"s":58,"f":4.6,"v":-29.19},{"s":58,"f":4.8,"v":-29.01},{"s":58,"f":5,"v":-29.01},{"s":58,"f":5.2,"v":-28.95},{"s":58,"f":5.4,"v":-28.88},{"s":58,"f":5.6,"v":-28.84},{"s":58,"f":5.8,"v":-28.74},{"s":58,"f":6,"v":-28.74},{"s":58,"f":6.2,"v":-28.6},{"s":58,"f":6.4,"v":-28.53},{"s":58,"f":6.6,"v":-28.49},{"s":58,"f":6.8,"v":-28.49},{"s":58,"f":7,"v":-28.45},{"s":58,"f":7.2,"v":-28.49},{"s":58,"f":7.4,"v":-28.53},{"s":58,"f":7.5,"v":-28.53},
{"s":59,"f":3.6,"v":-29.66},{"s":59,"f":3.8,"v":-29.66},{"s":59,"f":4,"v":-29.52},{"s":59,"f":4.2,"v":-29.56},{"s":59,"f":4.4,"v":-29.56},{"s":59,"f":4.6,"v":-29.7},{"s":59,"f":4.8,"v":-29.52},{"s":59,"f":5,"v":-29.52},{"s":59,"f":5.2,"v":-29.4},{"s":59,"f":5.4,"v":-29.31},{"s":59,"f":5.6,"v":-29.25},{"s":59,"f":5.8,"v":-29.11},{"s":59,"f":6,"v":-29.11},{"s":59,"f":6.2,"v":-28.95},{"s":59,"f":6.4,"v":-28.91},{"s":59,"f":6.6,"v":-28.84},{"s":59,"f":6.8,"v":-28.78},{"s":59,"f":7,"v":-28.74},{"s":59,"f":7.2,"v":-28.78},{"s":59,"f":7.4,"v":-28.84},{"s":59,"f":7.5,"v":-28.84},
{"s":60,"f":3.6,"v":-30.22},{"s":60,"f":3.8,"v":-30.22},{"s":60,"f":4,"v":-30.07},{"s":60,"f":4.2,"v":-30.07},{"s":60,"f":4.4,"v":-30.07},{"s":60,"f":4.6,"v":-30.07},{"s":60,"f":4.8,"v":-29.97},{"s":60,"f":5,"v":-29.97},{"s":60,"f":5.2,"v":-29.91},{"s":60,"f":5.4,"v":-29.81},{"s":60,"f":5.6,"v":-29.77},{"s":60,"f":5.8,"v":-29.66},{"s":60,"f":6,"v":-29.7},{"s":60,"f":6.2,"v":-29.46},{"s":60,"f":6.4,"v":-29.46},{"s":60,"f":6.6,"v":-29.36},{"s":60,"f":6.8,"v":-29.31},{"s":60,"f":7,"v":-29.31},{"s":60,"f":7.2,"v":-29.36},{"s":60,"f":7.4,"v":-29.31},{"s":60,"f":7.5,"v":-29.31},
{"s":61,"f":3.6,"v":-30.58},{"s":61,"f":3.8,"v":-30.62},{"s":61,"f":4,"v":-30.38},{"s":61,"f":4.2,"v":-30.48},{"s":61,"f":4.4,"v":-30.48},{"s":61,"f":4.6,"v":-30.62},{"s":61,"f":4.8,"v":-30.42},{"s":61,"f":5,"v":-30.48},{"s":61,"f":5.2,"v":-30.34},{"s":61,"f":5.4,"v":-30.22},{"s":61,"f":5.6,"v":-30.13},{"s":61,"f":5.8,"v":-30.01},{"s":61,"f":6,"v":-30.07},{"s":61,"f":6.2,"v":-29.87},{"s":61,"f":6.4,"v":-29.81},{"s":61,"f":6.6,"v":-29.72},{"s":61,"f":6.8,"v":-29.72},{"s":61,"f":7,"v":-29.72},{"s":61,"f":7.2,"v":-29.66},{"s":61,"f":7.4,"v":-29.72},{"s":61,"f":7.5,"v":-29.72},
{"s":62,"f":3.6,"v":-31.1},{"s":62,"f":3.8,"v":-31.1},{"s":62,"f":4,"v":-30.95},{"s":62,"f":4.2,"v":-30.89},{"s":62,"f":4.4,"v":-30.95},{"s":62,"f":4.6,"v":-31.03},{"s":62,"f":4.8,"v":-30.95},{"s":62,"f":5,"v":-30.95},{"s":62,"f":5.2,"v":-30.89},{"s":62,"f":5.4,"v":-30.83},{"s":62,"f":5.6,"v":-30.75},{"s":62,"f":5.8,"v":-30.54},{"s":62,"f":6,"v":-30.54},{"s":62,"f":6.2,"v":-30.34},{"s":62,"f":6.4,"v":-30.38},{"s":62,"f":6.6,"v":-30.28},{"s":62,"f":6.8,"v":-30.22},{"s":62,"f":7,"v":-30.17},{"s":62,"f":7.2,"v":-30.22},{"s":62,"f":7.4,"v":-30.22},{"s":62,"f":7.5,"v":-30.22},
{"s":63,"f":3.6,"v":-31.65},{"s":63,"f":3.8,"v":-31.65},{"s":63,"f":4,"v":-31.51},{"s":63,"f":4.2,"v":-31.51},{"s":63,"f":4.4,"v":-31.47},{"s":63,"f":4.6,"v":-31.65},{"s":63,"f":4.8,"v":-31.41},{"s":63,"f":5,"v":-31.41},{"s":63,"f":5.2,"v":-31.24},{"s":63,"f":5.4,"v":-31.2},{"s":63,"f":5.6,"v":-31.1},{"s":63,"f":5.8,"v":-30.95},{"s":63,"f":6,"v":-31.03},{"s":63,"f":6.2,"v":-30.75},{"s":63,"f":6.4,"v":-30.69},{"s":63,"f":6.6,"v":-30.54},{"s":63,"f":6.8,"v":-30.54},{"s":63,"f":7,"v":-30.48},{"s":63,"f":7.2,"v":-30.54},{"s":63,"f":7.4,"v":-30.52},{"s":63,"f":7.5,"v":-30.52},
{"s":64,"f":3.6,"v":-32.18},{"s":64,"f":3.8,"v":-32.18},{"s":64,"f":4,"v":-31.9},{"s":64,"f":4.2,"v":-31.92},{"s":64,"f":4.4,"v":-31.9},{"s":64,"f":4.6,"v":-32.05},{"s":64,"f":4.8,"v":-31.87},{"s":64,"f":5,"v":-31.87},{"s":64,"f":5.2,"v":-31.77},{"s":64,"f":5.4,"v":-31.67},{"s":64,"f":5.6,"v":-31.65},{"s":64,"f":5.8,"v":-31.47},{"s":64,"f":6,"v":-31.51},{"s":64,"f":6.2,"v":-31.16},{"s":64,"f":6.4,"v":-31.16},{"s":64,"f":6.6,"v":-31.1},{"s":64,"f":6.8,"v":-31.04},{"s":64,"f":7,"v":-31.04},{"s":64,"f":7.2,"v":-31.06},{"s":64,"f":7.4,"v":-31.1},{"s":64,"f":7.5,"v":-31.1}
]},
"mark":{"type":"line","strokeWidth":4.5,"strokeCap":"butt","strokeJoin":"round","clip":true},
"encoding":{
"x":{"field":"f","type":"quantitative","scale":{"domain":[3.5,7.5],"nice":false,"zero":false},
"axis":{"values":[3.5,4,4.5,5,5.5,6,6.5,7,7.5],"labelExpr":"replace(toString(datum.value),'.',',')","title":"Frequency (GHz)","labelFontSize":13,"labelPadding":6,"titleFontSize":14,"titlePadding":15}},
"y":{"field":"v","type":"quantitative","scale":{"domain":[-33,1.5],"nice":false,"zero":false},
"axis":{"values":[-33,-31.5,-30,-28.5,-27,-25.5,-24,-22.5,-21,-19.5,-18,-16.5,-15,-13.5,-12,-10.5,-9,-7.5,-6,-4.5,-3,-1.5,0,1.5],"labelExpr":"replace(toString(datum.value),'.',',')","title":"Attenuation shift (dB)","labelFontSize":12,"labelPadding":6,"titleFontSize":16,"titlePadding":10}},
"color":{"field":"s","type":"nominal","legend":null,"scale":{"domain":[1,2,3,4,5,6,7,8,9,10,11,12,13,14,15,16,17,18,19,20,21,22,23,24,25,26,27,28,29,30,31,32,33,34,35,36,37,38,39,40,41,42,43,44,45,46,47,48,49,50,51,52,53,54,55,56,57,58,59,60,61,62,63,64],
"range":["#000080","#FF00FF","#FFFF00","#00FFFF","#800080","#800000","#008080","#0000FF","#00CCFF","#CCFFFF","#CCFFCC","#FFFF99","#99CCFF","#FF99CC","#CC99FF","#FFCC99","#3366FF","#33CCCC","#99CC00","#FFCC00","#FF9900","#FF6600","#666699","#969696","#003366","#339966","#003300","#333300","#993300","#993366","#333399","#000000","#C0C0C0","#FF0000","#00FF00","#0000FF","#FFFF00","#FF00FF","#00FFFF","#800000","#008000","#000080","#808000","#800080","#008080","#C0C0C0","#808080","#9999FF","#993366","#FFFFCC","#CCFFFF","#660066","#FF8080","#0066CC","#CCCCFF","#000080","#FF00FF","#FFFF00","#00FFFF","#800080","#800000","#008080","#0000FF","#00CCFF"]}}
},
"config":{
"view":{"stroke":null},
"axis":{"grid":true,"gridColor":"#808080","gridWidth":1,"domainColor":"#000000","domainWidth":2,"tickColor":"#000000","tickSize":5,"tickWidth":1.5,"labelFont":"Liberation Sans","labelFontWeight":"bold","labelColor":"#000000","titleFont":"Liberation Sans","titleFontWeight":"bold","titleColor":"#000000"}
}
}
